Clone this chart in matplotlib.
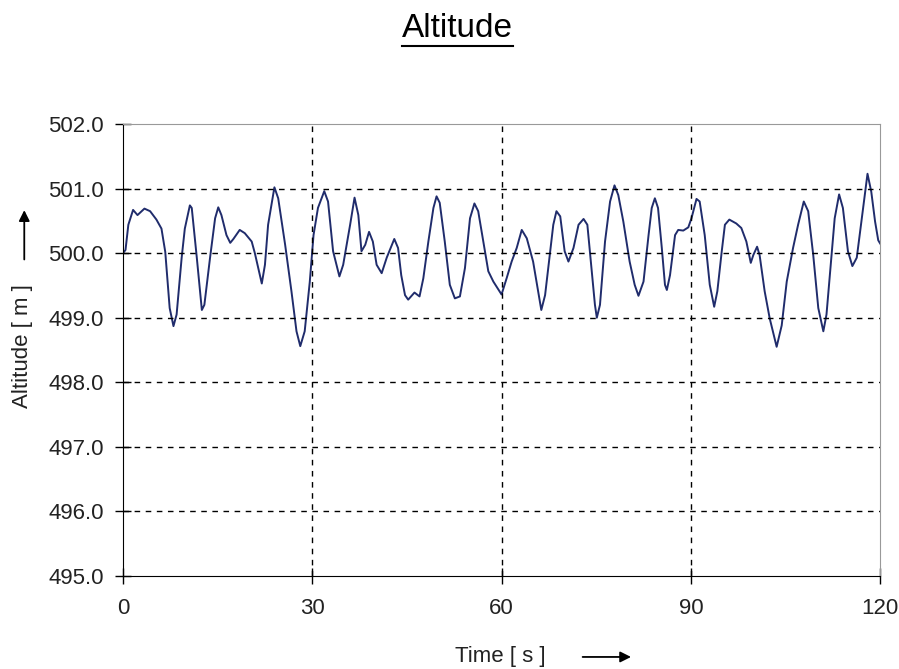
import matplotlib
matplotlib.use('Agg')
import matplotlib.pyplot as plt
from matplotlib.lines import Line2D

plt.rcParams['font.family'] = ['Liberation Sans', 'DejaVu Sans']

# time [s] and altitude [m]
time_s = [0.0, 0.4, 0.85, 1.6, 2.3, 3.4, 4.3, 5.3, 6.1, 6.7, 7.4, 8.0, 8.5, 9.3, 9.8,
          10.6, 10.9, 11.7, 12.5, 12.9, 13.8, 14.6, 15.1, 15.6, 16.4, 17.0, 17.5, 18.5,
          19.3, 20.4, 20.9, 22.0, 22.5, 23.0, 24.0, 24.6, 25.7, 26.7, 27.5, 28.1, 28.8,
          29.6, 30.2, 30.9, 31.9, 32.5, 33.3, 34.3, 34.9, 36.0, 36.7, 37.3, 37.8, 38.4,
          39.0, 39.6, 40.2, 41.0, 41.8, 43.0, 43.6, 44.1, 44.7, 45.2, 46.2, 47.0, 47.6,
          48.4, 49.2, 49.7, 50.2, 51.0, 51.8, 52.6, 53.4, 54.2, 55.0, 55.7, 56.3, 57.1,
          57.9, 58.7, 60.0, 60.8, 61.6, 62.4, 63.2, 64.0, 65.0, 65.8, 66.3, 66.9, 67.7,
          68.2, 68.7, 69.3, 70.0, 70.6, 71.4, 72.2, 73.0, 73.6, 74.3, 74.8, 75.1, 75.6,
          76.4, 77.2, 77.9, 78.5, 79.3, 80.3, 81.1, 81.7, 82.5, 83.3, 83.8, 84.3, 84.8,
          85.4, 85.9, 86.2, 86.7, 87.5, 88.0, 88.8, 89.6, 90.1, 90.9, 91.4, 92.2, 93.0,
          93.7, 94.2, 94.9, 95.4, 96.1, 97.2, 98.0, 98.8, 99.5, 99.9, 100.5, 100.9, 101.7,
          102.5, 103.6, 104.4, 105.2, 106.2, 107.0, 107.9, 108.6, 109.4, 110.2, 111.0,
          111.5, 112.3, 112.8, 113.5, 114.1, 114.9, 115.6, 116.3, 117.1, 118.0, 118.6,
          119.2, 119.7, 120.0]
altitude_m = [500.00, 500.05, 500.44, 500.67, 500.59, 500.69, 500.65, 500.52, 500.38,
              500.02, 499.15, 498.87, 499.05, 499.93, 500.38, 500.74, 500.70, 499.93,
              499.12, 499.20, 499.93, 500.54, 500.71, 500.59, 500.28, 500.16, 500.22,
              500.36, 500.31, 500.18, 500.00, 499.53, 499.82, 500.44, 501.02, 500.85,
              500.13, 499.41, 498.79, 498.56, 498.79, 499.55, 500.28, 500.70, 500.96,
              500.80, 500.03, 499.64, 499.82, 500.44, 500.86, 500.59, 500.03, 500.13,
              500.33, 500.18, 499.82, 499.69, 499.93, 500.22, 500.08, 499.66, 499.35,
              499.28, 499.39, 499.33, 499.61, 500.18, 500.70, 500.88, 500.78, 500.18,
              499.51, 499.30, 499.33, 499.77, 500.54, 500.77, 500.65, 500.18, 499.72,
              499.56, 499.36, 499.61, 499.87, 500.08, 500.36, 500.23, 499.87, 499.41,
              499.12, 499.35, 500.03, 500.44, 500.65, 500.57, 500.03, 499.87, 500.08,
              500.44, 500.53, 500.44, 499.72, 499.20, 499.00, 499.20, 500.18, 500.80,
              501.05, 500.90, 500.49, 499.87, 499.51, 499.34, 499.56, 500.28, 500.70,
              500.85, 500.70, 500.08, 499.51, 499.43, 499.66, 500.28, 500.36, 500.35,
              500.40, 500.54, 500.84, 500.80, 500.28, 499.51, 499.17, 499.41, 500.03,
              500.44, 500.52, 500.46, 500.39, 500.18, 499.85, 499.97, 500.10, 499.97,
              499.41, 498.99, 498.55, 498.88, 499.56, 500.08, 500.44, 500.80, 500.65,
              499.97, 499.15, 498.79, 499.05, 499.97, 500.54, 500.91, 500.70, 500.03,
              499.80, 499.93, 500.54, 501.23, 500.95, 500.49, 500.20, 500.15]

x_ticks = [0, 30, 60, 90, 120]
y_ticks = [495, 496, 497, 498, 499, 500, 501, 502]

fig = plt.figure(figsize=(8.99, 6.69), dpi=100)
ax = fig.add_axes([0.1368, 0.139, 0.8422, 0.6756])

ax.plot(time_s, altitude_m, color='#202c6c', linewidth=1.4)

ax.set_xlim(0, 120)
ax.set_ylim(495, 502)
ax.set_xticks(x_ticks)
ax.set_yticks(y_ticks)
ax.set_yticklabels(['%.1f' % v for v in y_ticks])
ax.tick_params(direction='inout', length=12, width=1, labelsize=16,
               colors='black', labelcolor='#222222')
ax.tick_params(axis='x', pad=10)
ax.tick_params(axis='y', pad=8)

for v in x_ticks[1:-1]:
    ax.axvline(v, color='black', linestyle=(0, (4, 4)), linewidth=1)
for v in y_ticks[1:-1]:
    ax.axhline(v, color='black', linestyle=(0, (4, 4)), linewidth=1)

ax.spines['left'].set_color('black')
ax.spines['bottom'].set_color('black')
ax.spines['top'].set_color('#999999')
ax.spines['right'].set_color('#999999')

# title with underline
title = fig.text(0.509, 0.957, 'Altitude', fontsize=24, ha='center', va='center')
fig.canvas.draw()
bb = title.get_window_extent().transformed(fig.transFigure.inverted())
fig.add_artist(Line2D([bb.x0, bb.x1], [bb.y0 - 0.002, bb.y0 - 0.002],
                      color='black', linewidth=1.5, transform=fig.transFigure))

# axis labels with arrows
fig.text(0.556, 0.018, 'Time [ s ]', fontsize=16, ha='center', va='center',
         color='#222222')
ax.annotate('', xy=(0.705, 0.018), xytext=(0.645, 0.018), xycoords='figure fraction',
            arrowprops=dict(arrowstyle='-|>', color='black', lw=1.3,
                            mutation_scale=16))
fig.text(0.025, 0.483, 'Altitude [ m ]', fontsize=16, rotation=90, ha='center',
         va='center', color='#222222')
ax.annotate('', xy=(0.027, 0.690), xytext=(0.027, 0.608), xycoords='figure fraction',
            arrowprops=dict(arrowstyle='-|>', color='black', lw=1.3,
                            mutation_scale=16))

fig.savefig('out.png', dpi=100)
